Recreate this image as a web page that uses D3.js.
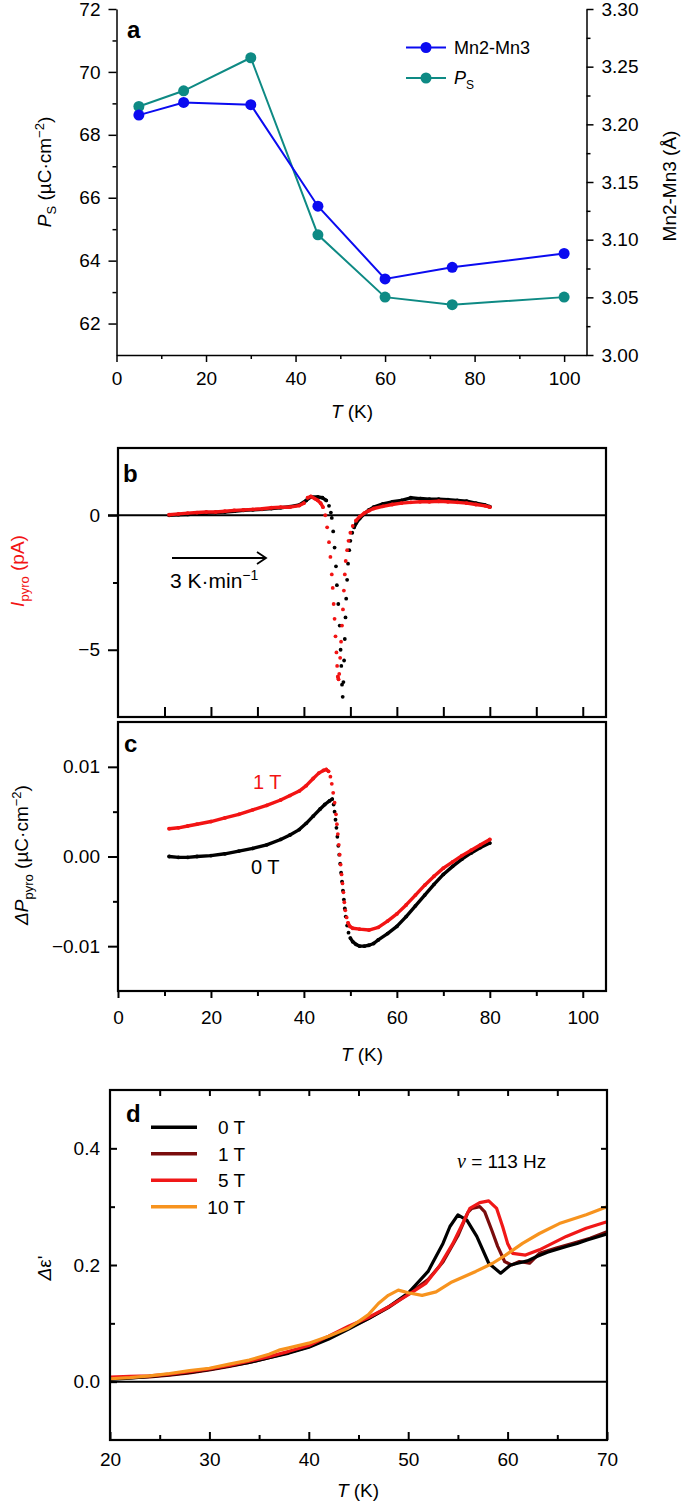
<!DOCTYPE html>
<html><head><meta charset="utf-8">
<script src="https://cdn.jsdelivr.net/npm/d3@7"></script>
<style>body{margin:0;background:#fff} text{font-family:"Liberation Sans",Arial,sans-serif}</style>
</head><body><svg id="chart" width="685" height="1504"></svg>
<script>
// ---------- Panel a data ----------
const aTemps = [5, 15, 30, 45, 60, 75, 100];
const aMnMn = [3.208, 3.219, 3.217, 3.129, 3.066, 3.076, 3.088];
const aPs = [68.90, 69.40, 70.45, 64.82, 62.84, 62.60, 62.84];
const aLeftTicks = [62, 64, 66, 68, 70, 72];
const aRightTicks = [3.00, 3.05, 3.10, 3.15, 3.20, 3.25, 3.30];
const aXTicks = [0, 20, 40, 60, 80, 100];

// ---------- Panel b data (I_pyro, pA) ----------
const bRedT = [11,13,15,17,19,21,23,25,27,29,31,33,35,37,39,40,40.8,41.5,42.3,43,43.6,44.1,44.6,45.0,45.4,45.7,46.0,46.2,46.4,46.6,46.8,47.0,47.15,47.3,47.45,47.6,47.8,48.0,48.2,48.4,48.6,48.8,49.0,49.3,49.6,50.0,50.5,51.2,52,53,54,55,57,59,61,63,65,67,69,71,73,75,77,79,80];
const bRedI = [0.02,0.05,0.08,0.10,0.12,0.12,0.15,0.18,0.20,0.22,0.24,0.28,0.30,0.30,0.36,0.45,0.65,0.70,0.62,0.55,0.45,0.30,0.0,-0.45,-1.0,-1.55,-2.2,-2.7,-3.3,-3.85,-4.5,-5.1,-5.6,-6.0,-6.1,-5.9,-5.3,-4.7,-4.1,-3.5,-2.8,-2.2,-1.7,-1.3,-0.95,-0.65,-0.4,-0.2,-0.05,0.08,0.17,0.25,0.33,0.40,0.45,0.48,0.50,0.50,0.52,0.50,0.48,0.45,0.40,0.35,0.30];
const bBlackT = [11,13,15,17,19,21,23,25,27,29,31,33,35,37,39,40.5,41.5,43,44,44.8,45.4,45.8,46.0,46.3,46.6,46.9,47.1,47.4,47.7,47.9,48.05,48.2,48.35,48.5,48.65,48.8,48.95,49.1,49.3,49.5,49.75,50.0,50.4,50.8,51.3,52,53,54,55,57,59,61,63,65,67,69,71,73,75,77,79,80];
const bBlackI = [0.0,0.02,0.03,0.05,0.08,0.10,0.12,0.15,0.18,0.20,0.22,0.25,0.28,0.32,0.38,0.55,0.68,0.68,0.65,0.55,0.35,0.10,-0.10,-0.6,-1.2,-1.9,-2.6,-3.3,-4.1,-5.0,-5.6,-6.3,-6.75,-6.2,-5.4,-4.6,-3.8,-3.1,-2.4,-1.8,-1.3,-0.95,-0.65,-0.45,-0.28,-0.12,0.05,0.20,0.30,0.42,0.50,0.55,0.65,0.62,0.60,0.60,0.58,0.55,0.52,0.45,0.38,0.32];
const bLeftTicks = [-5, 0];

// ---------- Panel c data (ΔP_pyro) ----------
const cBlackT = [11,13,15,17,20,23,26,29,32,35,37,39,40.5,42,43.5,44.5,45.5,46.1,46.4,46.6,46.8,47.0,47.2,47.4,47.6,47.8,48.0,48.2,48.4,48.6,48.8,49.0,49.3,49.6,50.0,50.5,51.2,52,53,54,55,56,58,60,62,64,66,68,70,72,74,76,78,80];
const cBlackP = [0.0,-0.0001,-0.0001,0.0,0.0001,0.0003,0.0006,0.0009,0.0013,0.0019,0.0024,0.0030,0.0037,0.0045,0.0053,0.0058,0.0062,0.0064,0.0058,0.0050,0.0041,0.0032,0.0022,0.0012,0.0002,-0.0008,-0.0018,-0.0028,-0.0038,-0.0048,-0.0058,-0.0067,-0.0077,-0.0085,-0.0091,-0.0095,-0.0098,-0.0100,-0.0100,-0.0099,-0.0097,-0.0093,-0.0086,-0.0078,-0.0067,-0.0055,-0.0043,-0.0031,-0.0020,-0.0011,-0.0003,0.0004,0.0010,0.0015];
const cRedT = [11,13,15,17,20,23,26,29,32,35,37,39,40.5,42,43.2,44.2,44.8,45.3,45.7,46.0,46.3,46.6,46.9,47.1,47.3,47.5,47.7,47.9,48.1,48.3,48.5,48.7,48.9,49.2,49.5,49.9,50.5,52,54,56,58,60,62,64,66,68,70,72,74,76,78,80];
const cRedP = [0.0031,0.0032,0.0034,0.0036,0.0039,0.0043,0.0047,0.0052,0.0057,0.0063,0.0068,0.0073,0.0079,0.0087,0.0093,0.0096,0.0097,0.0095,0.0089,0.0081,0.0071,0.0060,0.0047,0.0036,0.0025,0.0013,0.0002,-0.0009,-0.0020,-0.0030,-0.0040,-0.0051,-0.0060,-0.0068,-0.0074,-0.0078,-0.0080,-0.0081,-0.0082,-0.0079,-0.0072,-0.0064,-0.0054,-0.0043,-0.0032,-0.0022,-0.0013,-0.0006,0.0001,0.0007,0.0013,0.0019];
const cLeftTicks = [-0.01, 0, 0.01];
const cXTicks = [0, 20, 40, 60, 80, 100];

// ---------- Panel d data (Δε') ----------
const dNames = ["0 T", "1 T", "5 T", "10 T"];
const dT0 = [20,22,24,26,28,30,32,34,36,38,40,42,44,46,48,50,51.2,52,52.5,53.5,54.2,55,55.9,56.9,58.1,59.3,60.3,61,62,63,64,65,66,67,68,69,70];
const dE0 = [0.004,0.006,0.009,0.012,0.016,0.021,0.027,0.033,0.041,0.049,0.059,0.073,0.090,0.108,0.128,0.152,0.174,0.189,0.205,0.237,0.266,0.286,0.277,0.249,0.203,0.186,0.200,0.203,0.207,0.215,0.222,0.227,0.232,0.237,0.243,0.248,0.253];
const dT1 = [20,22,24,26,28,30,32,34,36,38,40,42,44,46,48,50,52,53.5,55,56,56.4,57.2,57.7,58.4,59,59.7,60.4,61.2,62.2,63.2,64.9,66.5,68.3,70];
const dE1 = [0.006,0.007,0.008,0.011,0.015,0.020,0.026,0.033,0.041,0.050,0.060,0.075,0.092,0.108,0.127,0.150,0.175,0.205,0.250,0.290,0.297,0.300,0.291,0.260,0.232,0.206,0.200,0.206,0.203,0.220,0.229,0.237,0.246,0.257];
const dT5 = [20,22,24,26,28,30,32,34,36,38,40,42,44,46,48,50.1,51.8,53.1,54.5,55.5,56.2,57.2,58.1,58.9,59.5,60,60.5,61.8,63.2,65.9,67.9,70];
const dE5 = [0.008,0.009,0.010,0.013,0.017,0.022,0.028,0.035,0.043,0.052,0.062,0.078,0.095,0.110,0.128,0.150,0.169,0.197,0.237,0.272,0.297,0.307,0.310,0.297,0.266,0.237,0.220,0.217,0.226,0.249,0.263,0.274];
const dT10 = [20,22,24,26,28,30,32,34,36,37,38,40,42,44,45,46,47,48,49,50.1,51.4,52.8,54.4,56.8,58.5,59.8,61.5,63.2,65.2,67.9,70];
const dE10 = [0.005,0.007,0.010,0.014,0.019,0.023,0.030,0.037,0.047,0.054,0.058,0.066,0.078,0.092,0.103,0.115,0.134,0.148,0.157,0.152,0.148,0.154,0.171,0.189,0.203,0.217,0.237,0.254,0.271,0.286,0.300];
const dColors = ["#000000", "#7a0c0c", "#f01818", "#f7931e"];
const dLeftTicks = [0, 0.2, 0.4];
const dXTicks = [20, 30, 40, 50, 60, 70];

const svg = d3.select("#chart");
const FS = 19;

function styleAxis(g, sw) {
  g.attr("font-size", null).attr("font-family", null);
  g.selectAll("text").attr("font-size", FS).attr("fill", "#000");
  g.selectAll("line").attr("stroke", "#000").attr("stroke-width", sw || 1.5);
  g.select(".domain").attr("stroke", "#000").attr("stroke-width", sw || 1.5);
}
function minor(g, gen, sw) {
  g.call(gen.tickFormat(""));
  g.select(".domain").remove();
  g.selectAll("line").attr("stroke", "#000").attr("stroke-width", sw || 1.5);
}
function zipXY(ts, vs) { return ts.map((t, i) => [t, vs[i]]); }

// ================= Panel a =================
const xa = d3.scaleLinear().domain([0, 105]).range([116.5, 586.5]);
const yaL = d3.scaleLinear().domain([61, 72]).range([355, 9]);
const yaR = d3.scaleLinear().domain([3.0, 3.3]).range([355, 9]);
const ga = svg.append("g");
ga.append("g").attr("transform", "translate(0,355)")
  .call(d3.axisBottom(xa).tickValues(aXTicks).tickSize(7).tickPadding(10).tickSizeOuter(0))
  .call(g => styleAxis(g));
minor(ga.append("g").attr("transform", "translate(0,355)"), d3.axisBottom(xa).tickValues([10,30,50,70,90]).tickSize(4));
ga.append("g").attr("transform", "translate(116.5,0)")
  .call(d3.axisLeft(yaL).tickValues(aLeftTicks).tickSize(8).tickPadding(8).tickSizeOuter(0))
  .call(g => styleAxis(g));
minor(ga.append("g").attr("transform", "translate(116.5,0)"), d3.axisLeft(yaL).tickValues([63,65,67,69,71]).tickSize(4));
ga.append("g").attr("transform", "translate(586.5,0)")
  .call(d3.axisRight(yaR).tickValues(aRightTicks).tickFormat(d3.format(".2f")).tickSize(7).tickPadding(8).tickSizeOuter(0))
  .call(g => styleAxis(g));
minor(ga.append("g").attr("transform", "translate(586.5,0)"), d3.axisRight(yaR).tickValues([3.025,3.075,3.125,3.175,3.225,3.275]).tickSize(4));

const blue = "#0b0bf0", teal = "#0e8a84";
const lineA = (ys) => d3.line().x(d => xa(d[0])).y(d => ys(d[1]));
const psPts = zipXY(aTemps, aPs), mnPts = zipXY(aTemps, aMnMn);
ga.append("path").attr("d", lineA(yaL)(psPts)).attr("fill", "none").attr("stroke", teal).attr("stroke-width", 2);
ga.append("path").attr("d", lineA(yaR)(mnPts)).attr("fill", "none").attr("stroke", blue).attr("stroke-width", 2);
ga.selectAll(".ps").data(psPts).join("circle").attr("cx", d => xa(d[0])).attr("cy", d => yaL(d[1])).attr("r", 5.5).attr("fill", teal);
ga.selectAll(".mn").data(mnPts).join("circle").attr("cx", d => xa(d[0])).attr("cy", d => yaR(d[1])).attr("r", 5.5).attr("fill", blue);
// legend
[[blue, 47.5], [teal, 78]].forEach(([c, y]) => {
  ga.append("line").attr("x1", 406).attr("x2", 446).attr("y1", y).attr("y2", y).attr("stroke", c).attr("stroke-width", 2);
  ga.append("circle").attr("cx", 426).attr("cy", y).attr("r", 5.5).attr("fill", c);
});
ga.append("text").attr("x", 454).attr("y", 54).attr("font-size", FS - 1).text("Mn2-Mn3");
{
  const t = ga.append("text").attr("x", 454).attr("y", 84).attr("font-size", FS - 1);
  t.append("tspan").attr("font-style", "italic").text("P");
  t.append("tspan").attr("font-size", 12).attr("dy", 5).text("S");
}
ga.append("text").attr("x", 127).attr("y", 38).attr("font-size", 24).attr("font-weight", "bold").text("a");
{
  const t = ga.append("text").attr("transform", "translate(51,172) rotate(-90)").attr("text-anchor", "middle").attr("font-size", FS);
  t.append("tspan").attr("font-style", "italic").text("P");
  t.append("tspan").attr("font-size", 13).attr("dy", 5).text("S");
  t.append("tspan").attr("dy", -5).text(" (µC·cm");
  t.append("tspan").attr("font-size", 13).attr("dy", -7).text("−2");
  t.append("tspan").attr("dy", 7).text(")");
}
ga.append("text").attr("transform", "translate(676,186) rotate(-90)").attr("text-anchor", "middle").attr("font-size", FS).text("Mn2-Mn3 (Å)");
{
  const t = ga.append("text").attr("x", 352).attr("y", 418).attr("text-anchor", "middle").attr("font-size", FS);
  t.append("tspan").attr("font-style", "italic").text("T");
  t.append("tspan").text(" (K)");
}

// ================= Panel b =================
const xb = d3.scaleLinear().domain([0, 105]).range([118, 606]);
const yb = d3.scaleLinear().domain([-7.5, 2.5]).range([717, 448]);
const gb = svg.append("g");
function dotted(g, pts, x, y, color) {
  let d = "";
  for (let i = 1; i < pts.length; i++) {
    const x1 = x(pts[i-1][0]), y1 = y(pts[i-1][1]), x2 = x(pts[i][0]), y2 = y(pts[i][1]);
    const dx = Math.abs(x2 - x1), dy = Math.abs(y2 - y1);
    if ((dx >= 4 && dy < 16) || dy < 5) d += `M${x1},${y1}L${x2},${y2}`;
  }
  g.append("path").attr("d", d).attr("fill", "none").attr("stroke", color).attr("stroke-width", 3.4).attr("stroke-linecap", "round");
  g.selectAll(null).data(pts).join("circle").attr("cx", p => x(p[0])).attr("cy", p => y(p[1])).attr("r", 1.9).attr("fill", color);
}
gb.append("line").attr("x1", 108).attr("x2", 606).attr("y1", yb(0)).attr("y2", yb(0)).attr("stroke", "#000").attr("stroke-width", 2);
dotted(gb, zipXY(bBlackT, bBlackI), xb, yb, "#000");
dotted(gb, zipXY(bRedT, bRedI), xb, yb, "#f21414");
gb.append("g").attr("transform", "translate(118,0)")
  .call(d3.axisLeft(yb).tickValues(bLeftTicks).tickFormat(d3.format("d")).tickSize(10).tickPadding(8).tickSizeOuter(0))
  .call(g => styleAxis(g, 2)).call(g => g.select(".domain").remove());
minor(gb.append("g").attr("transform", "translate(118,0)"), d3.axisLeft(yb).tickValues([-2.5]).tickSize(5), 2);
minor(gb.append("g").attr("transform", "translate(0,717)"), d3.axisBottom(xb).tickValues(d3.range(10, 101, 10)).tickSize(-10), 2);
gb.append("rect").attr("x", 118).attr("y", 448).attr("width", 488).attr("height", 269).attr("fill", "none").attr("stroke", "#000").attr("stroke-width", 2.2);
gb.append("text").attr("x", 123).attr("y", 482).attr("font-size", 24).attr("font-weight", "bold").text("b");
// arrow
gb.append("line").attr("x1", 172).attr("x2", 266).attr("y1", 558).attr("y2", 558).attr("stroke", "#000").attr("stroke-width", 1.8);
gb.append("path").attr("d", "M257,552L266,558L257,564").attr("fill", "none").attr("stroke", "#000").attr("stroke-width", 1.8);
{
  const t = gb.append("text").attr("x", 170).attr("y", 588).attr("font-size", 21);
  t.append("tspan").text("3 K·min");
  t.append("tspan").attr("font-size", 14).attr("dy", -8).text("−1");
}
{
  const t = gb.append("text").attr("transform", "translate(24,571) rotate(-90)").attr("text-anchor", "middle").attr("font-size", FS).attr("fill", "#f21414");
  t.append("tspan").attr("font-style", "italic").text("I");
  t.append("tspan").attr("font-size", 13).attr("dy", 5).text("pyro");
  t.append("tspan").attr("dy", -5).text(" (pA)");
}

// ================= Panel c =================
const xc = d3.scaleLinear().domain([0, 105]).range([118, 606]);
const yc = d3.scaleLinear().domain([-0.015, 0.015]).range([991, 722]);
const gc = svg.append("g");
dotted(gc, zipXY(cBlackT, cBlackP), xc, yc, "#000");
dotted(gc, zipXY(cRedT, cRedP), xc, yc, "#f21414");
gc.append("g").attr("transform", "translate(118,0)")
  .call(d3.axisLeft(yc).tickValues(cLeftTicks).tickFormat(d3.format(".2f")).tickSize(10).tickPadding(8).tickSizeOuter(0))
  .call(g => styleAxis(g, 2)).call(g => g.select(".domain").remove());
minor(gc.append("g").attr("transform", "translate(118,0)"), d3.axisLeft(yc).tickValues([-0.005, 0.005]).tickSize(5), 2);
gc.append("g").attr("transform", "translate(0,991)")
  .call(d3.axisBottom(xc).tickValues(cXTicks).tickSize(7).tickPadding(13).tickSizeOuter(0))
  .call(g => styleAxis(g, 2)).call(g => g.select(".domain").remove());
minor(gc.append("g").attr("transform", "translate(0,991)"), d3.axisBottom(xc).tickValues([10,30,50,70,90]).tickSize(5), 2);
gc.append("rect").attr("x", 118).attr("y", 722).attr("width", 488).attr("height", 269).attr("fill", "none").attr("stroke", "#000").attr("stroke-width", 2.2);
gc.append("text").attr("x", 124).attr("y", 752).attr("font-size", 24).attr("font-weight", "bold").text("c");
gc.append("text").attr("x", 253).attr("y", 789).attr("font-size", 20).attr("fill", "#f21414").text("1 T");
gc.append("text").attr("x", 251).attr("y", 874).attr("font-size", 20).attr("fill", "#000").text("0 T");
{
  const t = gc.append("text").attr("transform", "translate(28,855) rotate(-90)").attr("text-anchor", "middle").attr("font-size", FS);
  t.append("tspan").attr("font-style", "italic").text("ΔP");
  t.append("tspan").attr("font-size", 13).attr("dy", 5).text("pyro");
  t.append("tspan").attr("dy", -5).text(" (µC·cm");
  t.append("tspan").attr("font-size", 13).attr("dy", -7).text("−2");
  t.append("tspan").attr("dy", 7).text(")");
}
{
  const t = gc.append("text").attr("x", 362).attr("y", 1061).attr("text-anchor", "middle").attr("font-size", FS);
  t.append("tspan").attr("font-style", "italic").text("T");
  t.append("tspan").text(" (K)");
}

// ================= Panel d =================
const xd = d3.scaleLinear().domain([20, 70]).range([110, 607]);
const yd = d3.scaleLinear().domain([-0.1, 0.5]).range([1440, 1090]);
const gd = svg.append("g");
gd.append("line").attr("x1", 110).attr("x2", 607).attr("y1", yd(0)).attr("y2", yd(0)).attr("stroke", "#000").attr("stroke-width", 2);
const dSeries = [zipXY(dT0, dE0), zipXY(dT1, dE1), zipXY(dT5, dE5), zipXY(dT10, dE10)];
const lineD = d3.line().x(d => xd(d[0])).y(d => yd(d[1]));
[1, 0, 2, 3].forEach(i => {
  gd.append("path").attr("d", lineD(dSeries[i])).attr("fill", "none").attr("stroke", dColors[i]).attr("stroke-width", 3.2).attr("stroke-linejoin", "round");
});
gd.append("g").attr("transform", "translate(110,0)")
  .call(d3.axisLeft(yd).tickValues(dLeftTicks).tickFormat(d3.format(".1f")).tickSize(-7).tickPadding(10).tickSizeOuter(0))
  .call(g => styleAxis(g, 2)).call(g => g.select(".domain").remove());
minor(gd.append("g").attr("transform", "translate(110,0)"), d3.axisLeft(yd).tickValues([0.1, 0.3]).tickSize(-5), 2);
minor(gd.append("g").attr("transform", "translate(607,0)"), d3.axisRight(yd).tickValues([0.1, 0.2, 0.3, 0.4]).tickSize(-6), 2);
minor(gd.append("g").attr("transform", "translate(0,1090)"), d3.axisTop(xd).tickValues(d3.range(25, 66, 5)).tickSize(-6), 2);
gd.append("g").attr("transform", "translate(0,1440)")
  .call(d3.axisBottom(xd).tickValues(dXTicks).tickSize(-8).tickPadding(13).tickSizeOuter(0))
  .call(g => styleAxis(g, 2)).call(g => g.select(".domain").remove());
minor(gd.append("g").attr("transform", "translate(0,1440)"), d3.axisBottom(xd).tickValues([25,35,45,55,65]).tickSize(-5), 2);
gd.append("rect").attr("x", 110).attr("y", 1090).attr("width", 497).attr("height", 350).attr("fill", "none").attr("stroke", "#000").attr("stroke-width", 2.2);
gd.append("text").attr("x", 126).attr("y", 1122).attr("font-size", 24).attr("font-weight", "bold").text("d");
dNames.forEach((n, i) => {
  const y = 1127.3 + i * 26.5;
  gd.append("line").attr("x1", 151).attr("x2", 197).attr("y1", y).attr("y2", y).attr("stroke", dColors[i]).attr("stroke-width", 3.5);
  gd.append("text").attr("x", 245).attr("y", y + 7).attr("text-anchor", "end").attr("font-size", FS).text(n);
});
{
  const t = gd.append("text").attr("x", 457).attr("y", 1168).attr("font-size", FS);
  t.append("tspan").attr("font-family", "'Liberation Serif',serif").attr("font-style", "italic").attr("font-size", FS + 1).text("ν");
  t.append("tspan").text(" = 113 Hz");
}
{
  const t = gd.append("text").attr("transform", "translate(51,1268) rotate(-90)").attr("text-anchor", "middle").attr("font-size", FS);
  t.append("tspan").attr("font-style", "italic").text("Δ");
  t.append("tspan").text("ε'");
}
{
  const t = gd.append("text").attr("x", 358).attr("y", 1497).attr("text-anchor", "middle").attr("font-size", FS);
  t.append("tspan").attr("font-style", "italic").text("T");
  t.append("tspan").text(" (K)");
}
</script></body></html>
